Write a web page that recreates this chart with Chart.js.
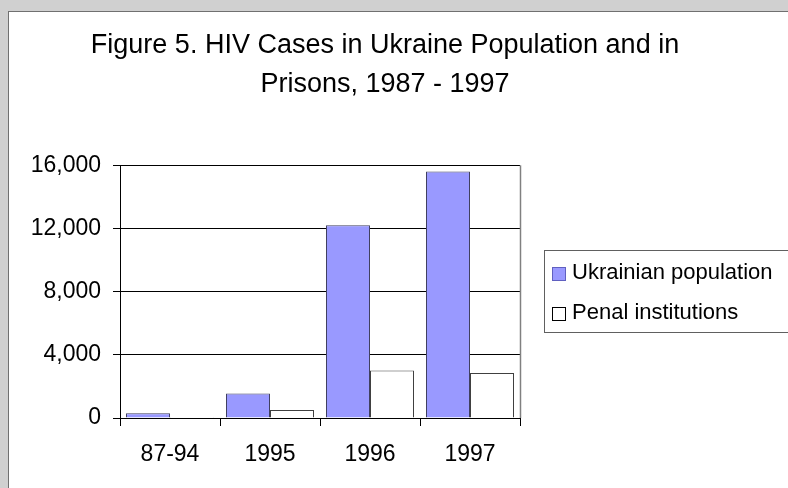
<!DOCTYPE html>
<html>
<head>
<meta charset="utf-8">
<script src="https://cdn.jsdelivr.net/npm/chart.js@4/dist/chart.umd.min.js"></script>
<style>
  html, body { margin: 0; padding: 0; background: #d0d0d0; width: 788px; height: 488px; overflow: hidden; }
  .panel {
    position: absolute; left: 8px; top: 11px; width: 780px; height: 477px;
    background: #fff; border-top: 1px solid #707070; border-left: 1px solid #707070;
  }
  canvas { display: block; }
</style>
</head>
<body>
<div class="panel"><canvas id="chart" width="779" height="476"></canvas></div>
<script>
const categories = ['87-94', '1995', '1996', '1997'];
const ukrainianPopulation = [300, 1550, 12200, 15600];
const penalInstitutions = [10, 500, 3000, 2850];
const yTicks = [0, 4000, 8000, 12000, 16000];

const FONT = 'Liberation Sans, Arial, sans-serif';

// right edge of plot + boxed legend, drawn like the old Excel chart
const frameAndLegend = {
  id: 'frameAndLegend',
  afterDraw(chart) {
    const { ctx, chartArea: a } = chart;
    ctx.save();
    ctx.strokeStyle = '#808080';
    ctx.lineWidth = 1.5;
    ctx.beginPath();
    ctx.moveTo(a.right + 0.5, a.top);
    ctx.lineTo(a.right + 0.5, a.bottom);
    ctx.stroke();

    // legend box
    const bx = 535.5, by = 238.5, bw = 260, bh = 82;
    ctx.strokeStyle = '#606060';
    ctx.lineWidth = 1;
    ctx.strokeRect(bx, by, bw, bh);

    ctx.font = '22px ' + FONT;
    ctx.textBaseline = 'alphabetic';
    chart.data.datasets.forEach((ds, i) => {
      const sy = 255 + i * 40;
      ctx.fillStyle = ds.backgroundColor;
      ctx.fillRect(543, sy, 14, 14);
      ctx.strokeStyle = i === 0 ? '#6060c0' : '#000';
      ctx.strokeRect(543.5, sy + 0.5, 13, 13);
      ctx.fillStyle = '#000';
      ctx.fillText(ds.label, 563, sy + 11.5);
    });
    ctx.restore();
  }
};

new Chart(document.getElementById('chart').getContext('2d'), {
  type: 'bar',
  data: {
    labels: categories,
    datasets: [
      {
        label: 'Ukrainian population',
        data: ukrainianPopulation,
        backgroundColor: '#9999ff',
        borderColor: '#404060',
        borderWidth: 1,
        categoryPercentage: 0.88,
        barPercentage: 1.0,
      },
      {
        label: 'Penal institutions',
        data: penalInstitutions,
        backgroundColor: '#ffffff',
        borderColor: '#404040',
        borderWidth: 1,
        categoryPercentage: 0.88,
        barPercentage: 1.0,
      },
    ],
  },
  options: {
    responsive: false,
    animation: false,
    devicePixelRatio: 1,
    layout: { padding: { top: 0, left: 0, right: 27, bottom: 0 } },
    plugins: {
      legend: { display: false },
      tooltip: { enabled: false },
      title: {
        display: true,
        text: ['Figure 5. HIV Cases in Ukraine Population and in', 'Prisons, 1987 - 1997'],
        color: '#000',
        font: { family: FONT, size: 27, weight: 'normal', lineHeight: 1.45 },
        padding: { top: 14, bottom: 61 },
      },
    },
    scales: {
      x: {
        afterFit: (s) => { s.height = 70; },
        grid: { drawOnChartArea: false, tickLength: 8, color: '#000', offset: true },
        border: { color: '#000', width: 1 },
        ticks: { color: '#000', padding: 15, font: { family: FONT, size: 23 } },
      },
      y: {
        min: 0,
        max: 16000,
        afterFit: (s) => { s.width = 111; },
        afterBuildTicks: (s) => { s.ticks = yTicks.map((v) => ({ value: v })); },
        grid: { color: '#000', tickLength: 7 },
        border: { color: '#000', width: 1 },
        ticks: {
          color: '#000',
          padding: 12,
          font: { family: FONT, size: 23 },
          callback: (v) => v.toLocaleString('en-US'),
        },
      },
      // empty right-hand strip that leaves room for the legend
      spacer: {
        type: 'linear',
        position: 'right',
        afterFit: (s) => { s.width = 241; },
        grid: { display: false },
        border: { display: false },
        ticks: { display: false },
      },
    },
  },
  plugins: [frameAndLegend],
});
</script>
</body>
</html>
